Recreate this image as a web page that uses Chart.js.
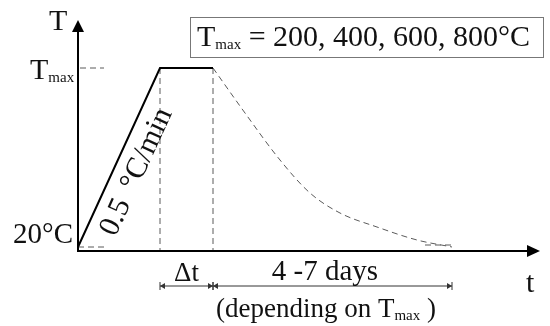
<!DOCTYPE html>
<html>
<head>
<meta charset="utf-8">
<script src="https://cdn.jsdelivr.net/npm/chart.js@4.4.1/dist/chart.umd.min.js"></script>
<style>
  body { margin: 0; background: #fff; }
  canvas { display: block; }
</style>
</head>
<body>
<canvas id="chart" width="550" height="326"></canvas>
<script>
// Schematic heating programme (arbitrary time / temperature units)
const heatingTime = [0, 82, 135];
const heatingTemp = [4, 183, 183];
const coolingTime = [135, 167, 202, 232, 262, 299, 339, 374];
const coolingTemp = [183, 138, 91, 58, 38, 24, 11, 4];
const tmaxLevel = 183;
const roomLevel = 4;
const plateauStart = 82;
const plateauEnd = 135;
const coolingEnd = 374;
const tailStart = 347;
const tmaxValues = ['200', '400', '600', '800'];

const FONT = '"Liberation Serif", "Times New Roman", serif';
const DASH_GREY = '#5a5a5a';

function pts(xs, ys) {
    return xs.map((x, i) => ({ x: x, y: ys[i] }));
}

// dashed guide lines, null point breaks the line
const guides = [
    { x: 2, y: tmaxLevel }, { x: 26, y: tmaxLevel }, { x: 26, y: null },
    { x: 0, y: roomLevel }, { x: 26, y: roomLevel }, { x: 26, y: null },
    { x: plateauStart, y: tmaxLevel }, { x: plateauStart, y: 0 }, { x: plateauStart, y: null },
    { x: plateauEnd, y: tmaxLevel }, { x: plateauEnd, y: 0 }, { x: plateauEnd, y: null },
    { x: tailStart, y: roomLevel + 2 }, { x: coolingEnd, y: roomLevel + 2 }
];

// text with a subscript, e.g. T + max
function subText(ctx, x, y, main, sub, rest, size, subSize) {
    ctx.textAlign = 'left';
    ctx.textBaseline = 'alphabetic';
    ctx.font = size + 'px ' + FONT;
    ctx.fillText(main, x, y);
    x += ctx.measureText(main).width;
    ctx.font = subSize + 'px ' + FONT;
    ctx.fillText(sub, x, y + 3);
    x += ctx.measureText(sub).width;
    if (rest) {
        ctx.font = size + 'px ' + FONT;
        ctx.fillText(rest, x, y);
    }
}

function arrowHead(ctx, tipX, tipY, dirX, dirY, len, half) {
    const bx = tipX - dirX * len, by = tipY - dirY * len;
    ctx.beginPath();
    ctx.moveTo(tipX, tipY);
    ctx.lineTo(bx - dirY * half, by + dirX * half);
    ctx.lineTo(bx + dirY * half, by - dirX * half);
    ctx.closePath();
    ctx.fill();
}

// dimension line with end bars and inward arrowheads
function dimLine(ctx, x0, x1, y) {
    ctx.strokeStyle = '#333';
    ctx.fillStyle = '#333';
    ctx.lineWidth = 1;
    ctx.beginPath();
    ctx.moveTo(x0, y); ctx.lineTo(x1, y);
    ctx.moveTo(x0, y - 4); ctx.lineTo(x0, y + 4);
    ctx.moveTo(x1, y - 4); ctx.lineTo(x1, y + 4);
    ctx.stroke();
    arrowHead(ctx, x0, y, -1, 0, 5, 3);
    arrowHead(ctx, x1, y, 1, 0, 5, 3);
}

const annotations = {
    id: 'annotations',
    afterDraw(chart) {
        const ctx = chart.ctx;
        const xs = chart.scales.x, ys = chart.scales.y;
        const x0 = xs.getPixelForValue(0), y0 = ys.getPixelForValue(0);
        const area = chart.chartArea;
        ctx.save();

        // axes with arrows
        ctx.strokeStyle = '#000';
        ctx.fillStyle = '#000';
        ctx.lineWidth = 2;
        ctx.beginPath();
        ctx.moveTo(x0, y0); ctx.lineTo(x0, area.top + 10);
        ctx.moveTo(x0 - 1, y0); ctx.lineTo(area.right - 10, y0);
        ctx.stroke();
        arrowHead(ctx, x0, area.top, 0, -1, 12, 6);
        arrowHead(ctx, area.right, y0, 1, 0, 13, 6);

        ctx.fillStyle = '#111';
        // axis titles
        ctx.font = '30px ' + FONT;
        ctx.textAlign = 'left';
        ctx.textBaseline = 'alphabetic';
        ctx.fillText('T', 49, 30);
        ctx.fillText('t', 526, 292);

        // y level labels
        const yT = ys.getPixelForValue(tmaxLevel);
        subText(ctx, 30, yT + 11, 'T', 'max', '', 30, 15);
        ctx.font = '29px ' + FONT;
        ctx.textAlign = 'right';
        ctx.fillText('20°C', 73, ys.getPixelForValue(roomLevel) - 4);

        // rate label along the ramp
        const rx0 = xs.getPixelForValue(heatingTime[0]), ry0 = ys.getPixelForValue(heatingTemp[0]);
        const rx1 = xs.getPixelForValue(heatingTime[1]), ry1 = ys.getPixelForValue(heatingTemp[1]);
        const ang = Math.atan2(ry1 - ry0, rx1 - rx0);
        const len = Math.hypot(rx1 - rx0, ry1 - ry0);
        const dx = (rx1 - rx0) / len, dy = (ry1 - ry0) / len;
        const cx = rx0 + dx * len * 0.47 - dy * 22;
        const cy = ry0 + dy * len * 0.47 + dx * 22;
        ctx.save();
        ctx.translate(cx, cy);
        ctx.rotate(ang);
        ctx.font = '30px ' + FONT;
        ctx.wordSpacing = '5px';
        ctx.textAlign = 'center';
        ctx.textBaseline = 'middle';
        ctx.fillText('0.5 °C/min', 0, 0);
        ctx.restore();

        // time spans below the axis
        const pS = xs.getPixelForValue(plateauStart);
        const pE = xs.getPixelForValue(plateauEnd);
        const cE = xs.getPixelForValue(coolingEnd);
        dimLine(ctx, pS, pE, 286);
        dimLine(ctx, pE, cE, 286);
        ctx.fillStyle = '#111';
        ctx.font = '27px ' + FONT;
        ctx.textAlign = 'center';
        ctx.textBaseline = 'alphabetic';
        ctx.fillText('Δt', (pS + pE) / 2, 281);
        ctx.font = '29px ' + FONT;
        ctx.fillText('4 -7 days', 325, 280);
        subText(ctx, 216, 317, '(depending on T', 'max', ' )', 27, 15);

        // legend-like box
        ctx.strokeStyle = '#777';
        ctx.lineWidth = 1;
        ctx.strokeRect(190.5, 17.5, 353, 40);
        ctx.fillStyle = '#111';
        subText(ctx, 197, 46, 'T', 'max', ' = ' + tmaxValues.join(', ') + '°C', 30, 15);

        ctx.restore();
    }
};

new Chart(document.getElementById('chart'), {
    type: 'scatter',
    data: {
        datasets: [
            {
                data: pts(heatingTime, heatingTemp),
                showLine: true,
                borderColor: '#000',
                borderWidth: 2,
                pointRadius: 0
            },
            {
                data: pts(coolingTime, coolingTemp),
                showLine: true,
                borderColor: DASH_GREY,
                borderWidth: 1,
                borderDash: [6, 4],
                cubicInterpolationMode: 'monotone',
                pointRadius: 0
            },
            {
                data: guides,
                showLine: true,
                spanGaps: false,
                borderColor: DASH_GREY,
                borderWidth: 1,
                borderDash: [6, 4],
                pointRadius: 0
            }
        ]
    },
    options: {
        responsive: false,
        animation: false,
        layout: { padding: { left: 78, right: 10, top: 20, bottom: 75 } },
        plugins: { legend: { display: false }, tooltip: { enabled: false } },
        scales: {
            x: { type: 'linear', min: 0, max: 462, display: false },
            y: { type: 'linear', min: 0, max: 231, display: false }
        }
    },
    plugins: [annotations]
});
</script>
</body>
</html>
